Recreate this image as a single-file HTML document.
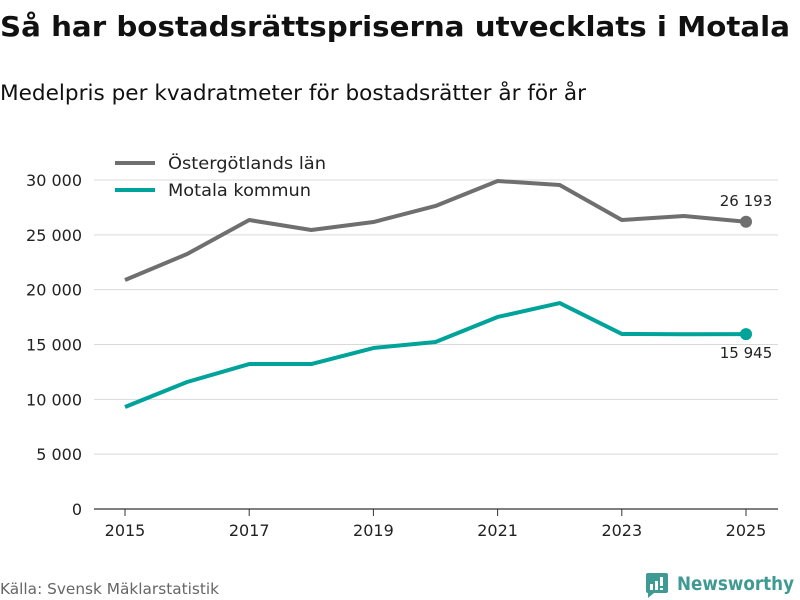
<!DOCTYPE html>
<html><head><meta charset="utf-8"><style>
body{margin:0;background:#fff;font-family:"DejaVu Sans","Liberation Sans",sans-serif;}
#c{position:relative;width:800px;height:600px;overflow:hidden;background:#fff}
</style></head><body><div id="c">
<svg id="s" width="800" height="600" xmlns="http://www.w3.org/2000/svg">
<text x="0" y="36" font-size="28" font-weight="bold" fill="#111" textLength="790" lengthAdjust="spacingAndGlyphs">Så har bostadsrättspriserna utvecklats i Motala</text>
<text x="0" y="100" font-size="21" fill="#111" textLength="586" lengthAdjust="spacingAndGlyphs">Medelpris per kvadratmeter för bostadsrätter år för år</text>
<g id="grid"></g><g id="axes"></g><g id="lines"></g>
<g>
<line x1="115" y1="163" x2="155" y2="163" stroke="#6f6f6f" stroke-width="4"/>
<text x="168" y="169" font-size="17" fill="#222" textLength="158" lengthAdjust="spacingAndGlyphs">Östergötlands län</text>
<line x1="115" y1="190" x2="155" y2="190" stroke="#00a39a" stroke-width="4"/>
<text x="168" y="196" font-size="17" fill="#222" textLength="143" lengthAdjust="spacingAndGlyphs">Motala kommun</text>
</g>
<text x="0" y="594" font-size="15" fill="#666" textLength="219" lengthAdjust="spacingAndGlyphs">Källa: Svensk Mäklarstatistik</text>
<g>
<path d="M646 573 h20 a2 2 0 0 1 2 2 v16 a2 2 0 0 1 -2 2 h-12 l-6 5 v-5 a2 2 0 0 1 -2 -2 v-16 a2 2 0 0 1 2 -2z" fill="#3f9a94"/>
<rect x="650" y="584" width="3" height="6" fill="#fff"/><rect x="655" y="581" width="3" height="9" fill="#fff"/><rect x="660" y="577" width="3" height="9" fill="#fff"/><rect x="660" y="588" width="3" height="2" fill="#fff"/>
<text x="677" y="590" font-size="19" font-weight="bold" fill="#3f9a94" textLength="117" lengthAdjust="spacingAndGlyphs">Newsworthy</text>
</g>
</svg></div>
<script>
const years=[2015,2016,2017,2018,2019,2020,2021,2022,2023,2024,2025];
const ostergotland=[20880,23250,26350,25440,26170,27630,29910,29540,26350,26720,26193];
const motala=[9300,11580,13220,13220,14680,15230,17510,18780,15960,15930,15945];
const yTicks=[0,5000,10000,15000,20000,25000,30000];
const xTicks=[2015,2017,2019,2021,2023,2025];
const NS="http://www.w3.org/2000/svg";
const x=v=>125+(v-2015)*62.1;
const y=v=>509-v*(329/30000);
const fmt=v=>String(v).replace(/\B(?=(\d{3})+(?!\d))/g,"\u00a0");
function mk(t,a,p){const e=document.createElementNS(NS,t);for(const k in a)e.setAttribute(k,a[k]);p.appendChild(e);return e;}
const g=document.getElementById('grid'),ax=document.getElementById('axes'),ln=document.getElementById('lines');
yTicks.forEach(v=>{
 const l=mk('line',{x1:94,x2:778,y1:y(v),y2:y(v),stroke:v===0?'#333':'#d9d9d9','stroke-width':v===0?1.2:1},g);
 
 
 const t=mk('text',{x:82,y:y(v)+6,'font-size':16,fill:'#222','text-anchor':'end'},ax);t.textContent=fmt(v);
 
 
});
xTicks.forEach(v=>{
 const l=mk('line',{x1:x(v),x2:x(v),y1:509,y2:516,stroke:'#333'},ax);
 
 
 const t=mk('text',{x:x(v),y:536,'font-size':16,fill:'#222','text-anchor':'middle'},ax);t.textContent=v;
 
 
});
function series(vals,color,name,ly){
 const p=mk('polyline',{points:vals.map((v,i)=>x(years[i])+','+y(v)).join(' '),fill:'none',stroke:color,'stroke-width':4,'stroke-linejoin':'round'},ln);
 
 
 const last=vals.length-1;
 const c=mk('circle',{cx:x(years[last]),cy:y(vals[last]),r:6,fill:color},ln);
 
 
 const t=mk('text',{x:x(years[last]),y:y(vals[last])+ly,'font-size':15,fill:'#222','text-anchor':'middle'},ln);t.textContent=fmt(vals[last]);
 
 
}
series(ostergotland,'#6f6f6f','ostergotland',-16);
series(motala,'#00a39a','motala',24);
</script></body></html>
